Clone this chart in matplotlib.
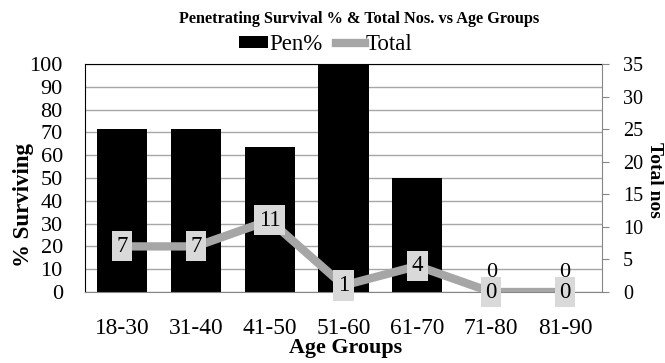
import matplotlib
matplotlib.use("Agg")
import matplotlib.pyplot as plt
import numpy as np

plt.rcParams['font.family'] = ['Liberation Serif', 'DejaVu Serif']

# survival data by age group
age_groups = ['18-30', '31-40', '41-50', '51-60', '61-70', '71-80', '81-90']
pen_pct = [71.4, 71.4, 63.6, 100, 50, 0, 0]
total = [7, 7, 11, 1, 4, 0, 0]
left_ticks = list(range(0, 101, 10))
right_ticks = list(range(0, 36, 5))

fig = plt.figure(figsize=(6.65, 3.63), dpi=100)
ax = fig.add_axes([85/665, 1-292/363, (602-85)/665, (292-64)/363])
x = np.arange(len(age_groups))

ax.bar(x, pen_pct, width=0.68, color='black', zorder=2, label='Pen%')
ax.set_ylim(0, 100)
ax.set_xlim(-0.5, len(age_groups)-0.5)
ax.set_yticks(left_ticks)
ax.tick_params(axis='y', length=0, labelsize=16, pad=16)
ax.tick_params(axis='x', length=0, labelsize=16.8, pad=19)
ax.set_xticks(x)
ax.set_xticklabels(age_groups)
ax.yaxis.grid(True, color='#a6a6a6', lw=1, zorder=0)
ax.set_axisbelow(True)
for s in ['top', 'left']:
    ax.spines[s].set_color('black')
ax.spines['bottom'].set_color('#868686')
ax.spines['right'].set_visible(False)

# zero-height bars still get their value label
for xi, v in zip(x, pen_pct):
    if v == 0:
        ax.text(xi, v + 4.5, '0', ha='center', va='bottom', fontsize=16, zorder=3)

ax2 = ax.twinx()
ax2.plot(x, total, color='#a6a6a6', lw=6, zorder=4, label='Total')
ax2.set_ylim(0, 35)
ax2.set_yticks(right_ticks)
ax2.tick_params(axis='y', length=5, color='#868686', labelsize=14.5, pad=10)
for s in ['top', 'left', 'bottom']:
    ax2.spines[s].set_visible(False)
ax2.spines['right'].set_color('#868686')
for xi, v in zip(x, total):
    ax2.text(xi, v, str(v), ha='center', va='center', fontsize=16.5, zorder=5,
             bbox=dict(boxstyle='square,pad=0.2', fc='#d9d9d9', ec='none'))

# axis titles and chart title
fig.text(24/665, 1-205/363, '% Surviving', rotation=90, ha='center', va='center',
         fontsize=16.5, fontweight='bold')
fig.text(655/665, 1-180/363, 'Total nos', rotation=270, ha='center', va='center',
         fontsize=14, fontweight='bold')
fig.text(346/665, 1-348/363, 'Age Groups', ha='center', va='center',
         fontsize=15.8, fontweight='bold')
fig.text(359/665, 1-19/363, 'Penetrating Survival % & Total Nos. vs Age Groups',
         ha='center', va='center', fontsize=11.7, fontweight='bold')

h1, l1 = ax.get_legend_handles_labels()
h2, l2 = ax2.get_legend_handles_labels()
fig.legend(h1 + h2, l1 + l2, loc='center', bbox_to_anchor=(326/665, 1-45/363), ncol=2,
           frameon=False, fontsize=16.5, handlelength=1.25, handleheight=0.42,
           handletextpad=0.05, columnspacing=0.6, borderaxespad=0, borderpad=0)

fig.savefig('out.png', dpi=100)
